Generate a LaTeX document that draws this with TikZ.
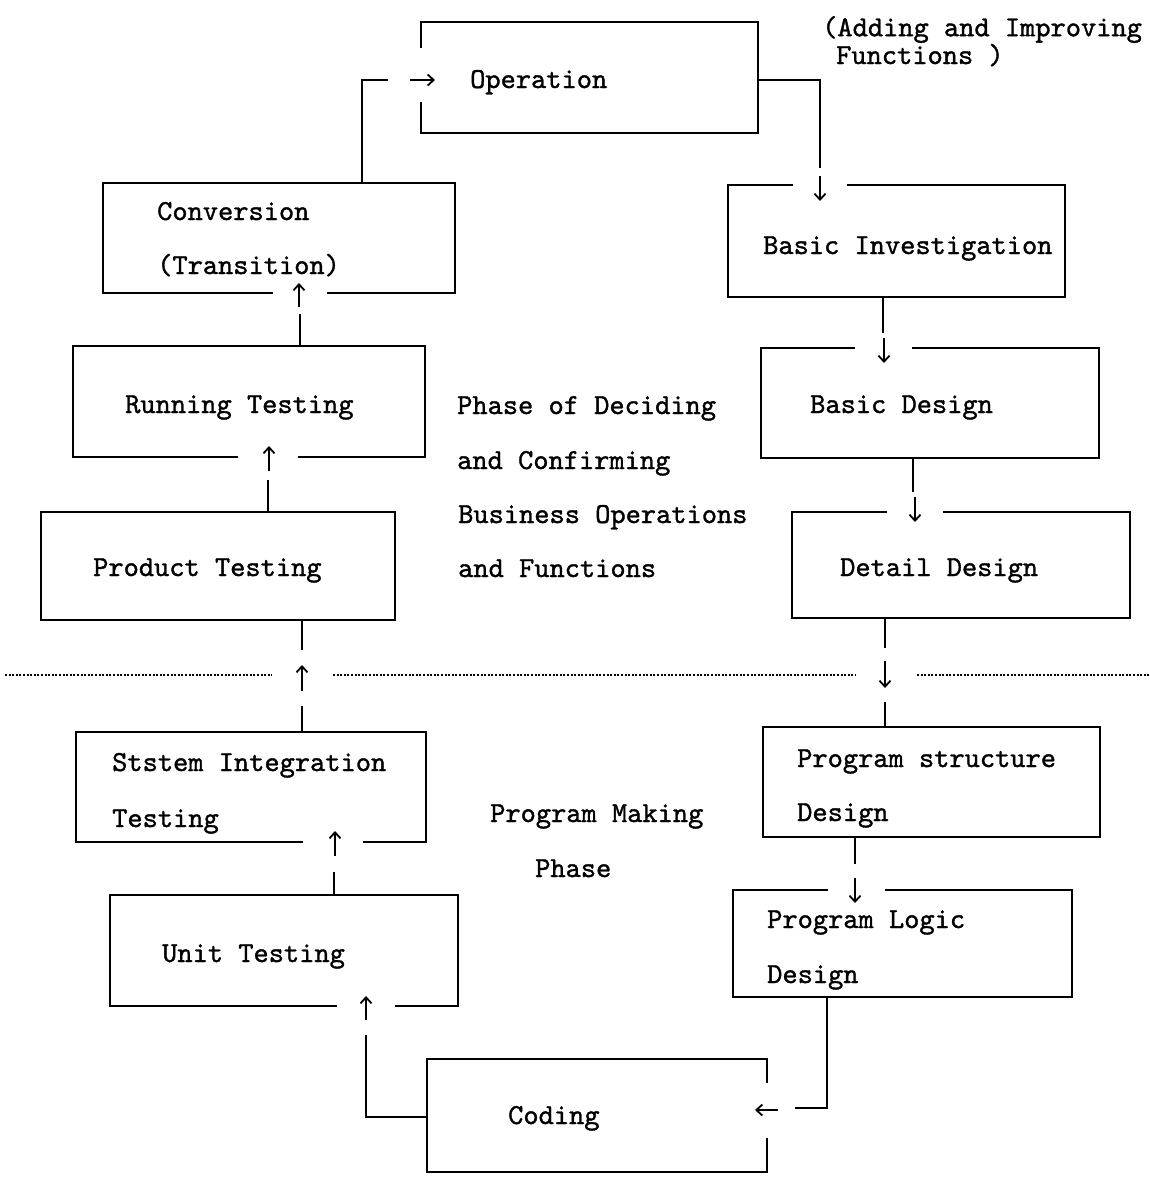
\documentclass[tikz,border=0pt]{standalone}
\usepackage{fontspec}
\newfontfamily\stagefont{lmmono10-regular.otf}[FakeBold=1.2]
\usetikzlibrary{arrows.meta,fit}
\begin{document}
\begin{tikzpicture}[x=1pt,y=-1pt,
  stage/.style={draw, line width=2.4pt, inner sep=0pt},
  lbl/.style={anchor=base west, inner sep=0pt, font=\stagefont\fontsize{29}{34}\selectfont},
  conn/.style={line width=2pt},
  tip/.style={line width=1.8pt, -{Straight Barb[length=6pt,width=11pt]}},
  gap/.style={fill=white},
  phase/.style={line width=2.6pt, dash pattern=on 2pt off 1.6pt}]

\useasboundingbox (0,0) rectangle (1149,1181);
\fill[white] (0,0) rectangle (1149,1181);

% stage boxes
\node[stage, fit={(421,22) (758,133)}]    (op)   {};
\node[stage, fit={(103,183) (455,293)}]   (conv) {};
\node[stage, fit={(728,185) (1065,297)}]  (bi)   {};
\node[stage, fit={(73,346) (425,457)}]    (rt)   {};
\node[stage, fit={(761,348) (1099,458)}]  (bd)   {};
\node[stage, fit={(41,512) (395,620)}]    (pt)   {};
\node[stage, fit={(792,512) (1130,618)}]  (dd)   {};
\node[stage, fit={(76,732) (426,842)}]    (sit)  {};
\node[stage, fit={(110,895) (458,1006)}]  (ut)   {};
\node[stage, fit={(763,727) (1100,837)}]  (psd)  {};
\node[stage, fit={(733,890) (1072,997)}]  (pld)  {};
\node[stage, fit={(427,1059) (767,1172)}] (cod)  {};

% openings in the borders where the arrows enter
\fill[gap] (414,48) rectangle (428,102);
\fill[gap] (273,287) rectangle (327,299);
\fill[gap] (793,179) rectangle (847,191);
\fill[gap] (238,451) rectangle (298,463);
\fill[gap] (855,342) rectangle (912,354);
\fill[gap] (887,506) rectangle (943,518);
\fill[gap] (303,836) rectangle (363,848);
\fill[gap] (337,1000) rectangle (395,1012);
\fill[gap] (828,884) rectangle (885,896);
\fill[gap] (761,1083) rectangle (773,1138);

% texts
\node[lbl] (opT)   at (470,88)   {Operation};
\node[lbl] (convA) at (157,220)  {Conversion};
\node[lbl] (convB) at (157,274)  {(Transition)};
\node[lbl] (biT)   at (763,254)  {Basic Investigation};
\node[lbl] (rtT)   at (125,413)  {Running Testing};
\node[lbl] (bdT)   at (810,413)  {Basic Design};
\node[lbl] (ptT)   at (93,576)   {Product Testing};
\node[lbl] (ddT)   at (840,576)  {Detail Design};
\node[lbl] (sitA)  at (112,771)  {Ststem Integration};
\node[lbl] (sitB)  at (112,827)  {Testing};
\node[lbl] (utT)   at (162,962)  {Unit Testing};
\node[lbl] (psdA)  at (797,767)  {Program structure};
\node[lbl] (psdB)  at (797,821)  {Design};
\node[lbl] (pldA)  at (767,928)  {Program Logic};
\node[lbl] (pldB)  at (767,983)  {Design};
\node[lbl] (codT)  at (508,1124) {Coding};

\node[lbl] (ph1) at (457,414) {Phase of Deciding};
\node[lbl] (ph2) at (457,469) {and Confirming};
\node[lbl] (ph3) at (458,523) {Business Operations};
\node[lbl] (ph4) at (458,577) {and Functions};
\node[lbl] (pm1) at (490,822) {Program Making};
\node[lbl] (pm2) at (535,877) {Phase};
\node[lbl, align=left, font=\stagefont\fontsize{29}{26}\selectfont] (ad) at (822,64)
  {(Adding and Improving\\\hspace*{14pt}Functions )};

% phase boundary
\draw[phase] (5,675) -- (272,675);
\draw[phase] (333,675) -- (856,675);
\draw[phase] (917,675) -- (1149,675);

% flow connectors
\coordinate (j1) at (388,80);
\draw[conn] (conv.north -| 362,0) |- (j1);
\draw[tip] (410,80) -- (435,80);

\draw[conn] (op.east |- 0,80) -| (820,168);
\draw[tip] (820,176) -- (820,201);

\draw[conn] (bi.south -| 883,0) -- (883,333);
\draw[tip] (884,338) -- (884,363);

\draw[conn] (bd.south -| 913,0) -- (913,492);
\draw[tip] (915,497) -- (915,522);

\draw[conn] (dd.south -| 885,0) -- (885,648);
\draw[tip] (885,661) -- (885,688);
\draw[conn] (885,702) -- (psd.north -| 885,0);

\draw[conn] (psd.south -| 855,0) -- (855,864);
\draw[tip] (855,878) -- (855,903);

\draw[conn] (pld.south -| 827,0) |- (795,1108);
\draw[tip] (778,1110) -- (755,1110);

\draw[conn] (cod.west |- 0,1117) -| (366,1035);
\draw[tip] (366,1020) -- (366,996);

\draw[conn] (ut.north -| 334,0) -- (334,872);
\draw[tip] (335,856) -- (335,831);

\draw[conn] (sit.north -| 302,0) -- (302,706);
\draw[tip] (302,691) -- (302,665);
\draw[conn] (302,650) -- (pt.south -| 302,0);

\draw[conn] (pt.north -| 268,0) -- (268,480);
\draw[tip] (269,471) -- (269,446);

\draw[conn] (rt.north -| 300,0) -- (300,314);
\draw[tip] (299,307) -- (299,283);

\end{tikzpicture}
\end{document}
